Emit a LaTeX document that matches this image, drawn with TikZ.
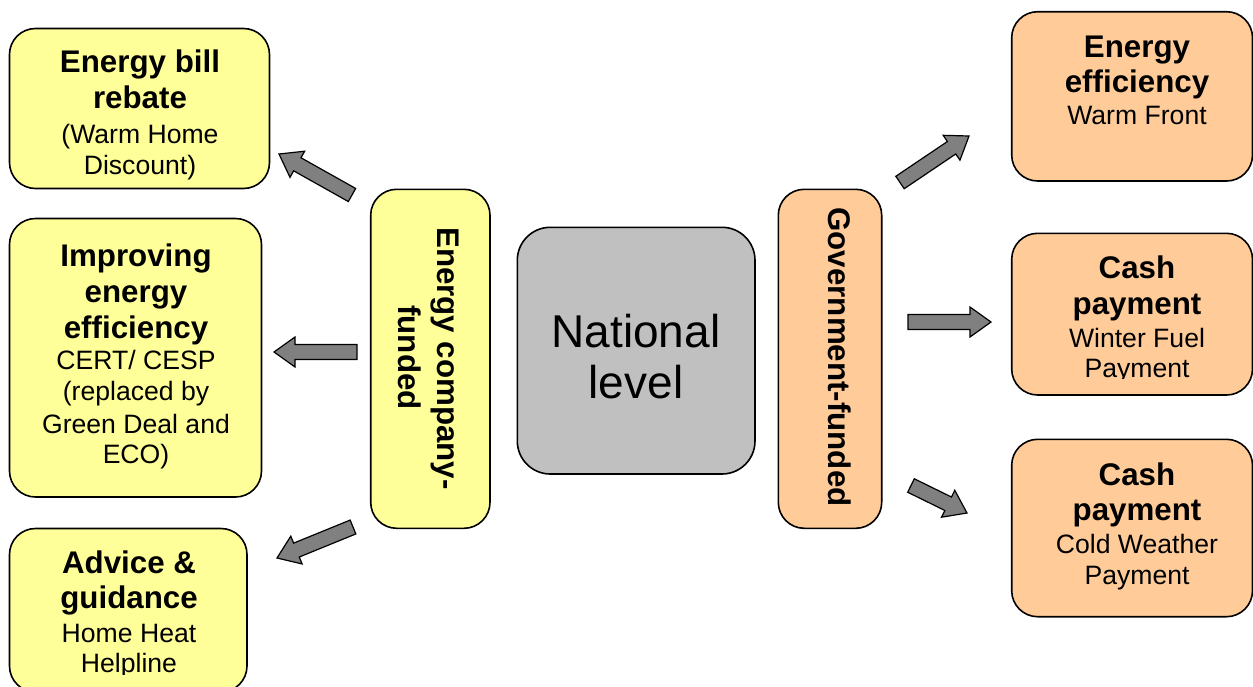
\documentclass[tikz,border=0pt]{standalone}
\usepackage{fontspec}
\setmainfont{Liberation Sans}
\usetikzlibrary{calc}

\definecolor{paleyellow}{HTML}{FFFF99}
\definecolor{paleorange}{HTML}{FFCC99}
\definecolor{midgrey}{HTML}{C0C0C0}
\definecolor{arrowgrey}{HTML}{808080}

\tikzset{
  box/.style={draw=black, line width=1.6pt, rounded corners=26pt, inner sep=0pt},
  ybox/.style={box, fill=paleyellow},
  obox/.style={box, fill=paleorange},
  gbox/.style={box, fill=midgrey, rounded corners=33pt},
  hd/.style={anchor=base, inner sep=0pt, font=\fontsize{31.3}{36}\selectfont\bfseries},
  tx/.style={anchor=base, inner sep=0pt, font=\fontsize{26.6}{31}\selectfont},
  big/.style={anchor=base, inner sep=0pt, font=\fontsize{46}{52}\selectfont},
  barrow/.style={draw=black, line width=1.2pt, fill=arrowgrey, line join=miter},
}

% block arrow from tail coordinate #1 to tip coordinate #2
\newcommand\blockarrow[2]{%
  \draw[barrow] let \p1=($(#2)-(#1)$), \n1={veclen(\x1,\y1)}, \n2={atan2(\y1,\x1)} in
    ($(#1)+(\n2+90:7.5)$)
    -- ($(#1)+(\n2:\n1-21)+(\n2+90:7.5)$)
    -- ($(#1)+(\n2:\n1-21)+(\n2+90:15)$)
    -- (#2)
    -- ($(#1)+(\n2:\n1-21)+(\n2-90:15)$)
    -- ($(#1)+(\n2:\n1-21)+(\n2-90:7.5)$)
    -- ($(#1)+(\n2-90:7.5)$) -- cycle;}

\begin{document}
\begin{tikzpicture}[x=1pt,y=1pt]
\useasboundingbox (0,0) rectangle (1253,-686);
\clip (0,0) rectangle (1253,-686);

% ---- boxes ----
\node[ybox, minimum width=260pt, minimum height=160pt] (rebate) at (139.5,-108.5) {};
\node[ybox, minimum width=252pt, minimum height=278.5pt] (improve) at (135.5,-357.75) {};
\node[ybox, minimum width=237.5pt, minimum height=163.5pt] (advice) at (128.25,-610.25) {};
\node[ybox, minimum width=119.3pt, minimum height=339pt] (ecf) at (430.35,-358.8) {};
\node[gbox, minimum width=237.7pt, minimum height=246.7pt] (national) at (636.15,-350.65) {};
\node[obox, minimum width=103.4pt, minimum height=339pt] (gov) at (830,-358.8) {};
\node[obox, minimum width=240.8pt, minimum height=169.3pt] (warm) at (1132.1,-96.35) {};
\node[obox, minimum width=240.8pt, minimum height=161.7pt] (winter) at (1132.1,-314.15) {};
\node[obox, minimum width=240.8pt, minimum height=177.4pt] (cold) at (1132.1,-528) {};

% ---- texts ----
\node[hd] (rebate1) at (140,-72) {Energy bill};
\node[hd] (rebate2) at (140,-108) {rebate};
\node[tx] (rebate3) at (140,-143) {(Warm Home};
\node[tx] (rebate4) at (140,-174) {Discount)};

\node[hd] (improve1) at (136,-266) {Improving};
\node[hd] (improve2) at (136,-302) {energy};
\node[hd] (improve3) at (136,-338) {efficiency};
\node[tx] (improve4) at (136,-369) {CERT/ CESP};
\node[tx] (improve5) at (136,-400) {(replaced by};
\node[tx] (improve6) at (136,-433) {Green Deal and};
\node[tx] (improve7) at (136,-463) {ECO)};

\node[hd] (advice1) at (129,-573) {Advice \&};
\node[hd] (advice2) at (129,-608) {guidance};
\node[tx] (advice3) at (129,-642) {Home Heat};
\begin{scope}
  \clip (0,-640) rectangle (250,-674.5);
  \node[tx] (advice4) at (129,-672) {Helpline};
\end{scope}

\node[hd, rotate=-90] (ecf1) at (437,-358.5) {Energy company-};
\node[hd, rotate=-90] (ecf2) at (398.5,-357.5) {funded};

\node[big] (national1) at (636,-347) {National};
\node[big] (national2) at (636,-398) {level};

\node[hd, rotate=-90] (gov1) at (828,-357) {Government-funded};

\node[hd] (warm1) at (1137,-57) {Energy};
\node[hd] (warm2) at (1137,-92) {efficiency};
\node[tx] (warm3) at (1137,-124) {Warm Front};

\node[hd] (winter1) at (1137,-278) {Cash};
\node[hd] (winter2) at (1137,-314) {payment};
\node[tx] (winter3) at (1137,-347) {Winter Fuel};
\begin{scope}
  \clip (1000,-350) rectangle (1253,-378.5);
  \node[tx] (winter4) at (1137,-377) {Payment};
\end{scope}

\node[hd] (cold1) at (1137,-485) {Cash};
\node[hd] (cold2) at (1137,-520) {payment};
\node[tx] (cold3) at (1137,-553) {Cold Weather};
\node[tx] (cold4) at (1137,-584) {Payment};

% ---- block arrows ----
\coordinate (a1s) at (352,-195);   \coordinate (a1e) at (279,-154);
\coordinate (a2s) at (357,-352);   \coordinate (a2e) at (274,-352);
\coordinate (a3s) at (353,-527);   \coordinate (a3e) at (277,-558);
\coordinate (a4s) at (900,-182.5); \coordinate (a4e) at (969,-136);
\coordinate (a5s) at (908,-322);   \coordinate (a5e) at (991,-322);
\coordinate (a6s) at (911,-485.5); \coordinate (a6e) at (967,-513);

\blockarrow{a1s}{a1e}
\blockarrow{a2s}{a2e}
\blockarrow{a3s}{a3e}
\blockarrow{a4s}{a4e}
\blockarrow{a5s}{a5e}
\blockarrow{a6s}{a6e}
\end{tikzpicture}
\end{document}
